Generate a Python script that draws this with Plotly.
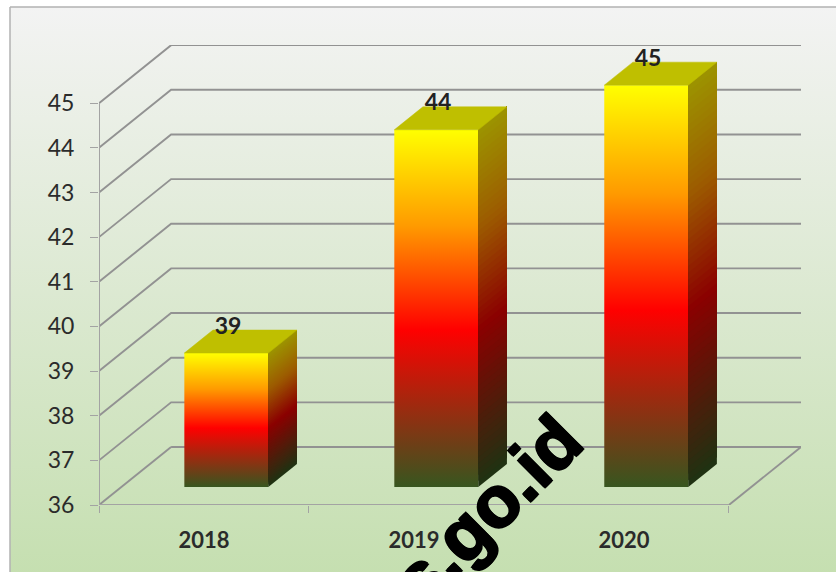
import plotly.graph_objects as go

# ---- data ----
years = ["2018", "2019", "2020"]
values = [39, 44, 45]
axis_ticks = [36, 37, 38, 39, 40, 41, 42, 43, 44, 45]

# ---- layout constants (pixels of the 836x572 picture) ----
W, H = 836, 572
LEFT, RIGHT, TOP, BOTTOM = 99, 801, 45, 505
UNIT_X, UNIT_Y = 209.67, 44.65
DEPTH_X = 72 / UNIT_X
DEPTH_Y = 58 / UNIT_Y
BAR_W = 0.4
D0, D1 = 0.31, 0.707
GRID = "#929292"
AX = "#a3a3a3"

FRONT_SCALE = [[0, "#37561f"], [0.44, "#ff0000"], [0.73, "#ff9a00"], [1, "#ffff00"]]
SIDE_STOPS = [(0, (0x1e, 0x33, 0x12)), (0.44, (0x8b, 0, 0)), (0.73, (0x9c, 0x5c, 0)), (1, (0x9c, 0x94, 0))]


def side_color(t):
    for (a, ca), (b, cb) in zip(SIDE_STOPS, SIDE_STOPS[1:]):
        if t <= b:
            f = (t - a) / (b - a)
            return "rgb(%d,%d,%d)" % tuple(round(p + (q - p) * f) for p, q in zip(ca, cb))
    return "rgb(156,148,0)"


fig = go.Figure()

# frame / background on a full-page helper axis pair
fig.add_trace(go.Scatter(
    x=[10, W + 5, W + 5, 10, 10], y=[7, 7, H + 5, H + 5, 7], mode="lines",
    fill="toself", line=dict(color="#b3b3b3", width=1.5),
    fillgradient=dict(type="vertical", colorscale=[[0, "#c5dfb0"], [1, "#f3f3f3"]]),
    xaxis="x", yaxis="y", hoverinfo="skip", showlegend=False,
))


def line(xs, ys, color=GRID, width=1.9):
    fig.add_trace(go.Scatter(x=xs, y=ys, mode="lines", line=dict(color=color, width=width),
                             xaxis="x2", yaxis="y2", hoverinfo="skip", showlegend=False,
                             cliponaxis=False))


xl, xr = -0.5, 2.5
base = axis_ticks[0]
# floor edges
line([xl, xl + DEPTH_X], [base, base + DEPTH_Y])
line([xl + DEPTH_X, xr + DEPTH_X], [base + DEPTH_Y, base + DEPTH_Y])
line([xr + DEPTH_X, xr], [base + DEPTH_Y, base])
# wall grid lines
for v in axis_ticks[1:]:
    line([xl, xl + DEPTH_X, xr + DEPTH_X], [v, v + DEPTH_Y, v + DEPTH_Y])
# axis lines
line([xl, xl], [axis_ticks[0], axis_ticks[-1]], AX, 2)
line([xl, xr], [base, base], AX, 2)

# 3-D columns
for i, v in enumerate(values):
    x0, x1 = i - BAR_W / 2, i + BAR_W / 2
    fx0, fb = x0 + D0 * DEPTH_X, base + D0 * DEPTH_Y
    fx1, ft = x1 + D0 * DEPTH_X, v + D0 * DEPTH_Y
    bx1 = x1 + D1 * DEPTH_X
    lift = (D1 - D0) * DEPTH_Y
    # front face
    fig.add_trace(go.Scatter(
        x=[fx0, fx1, fx1, fx0, fx0], y=[fb, fb, ft, ft, fb], mode="lines",
        line=dict(width=0), fill="toself",
        fillgradient=dict(type="vertical", colorscale=FRONT_SCALE),
        xaxis="x2", yaxis="y2", hoverinfo="skip", showlegend=False,
    ))
    # side face: slanted bands painted over one another, bottom to top
    n = 60
    for k in range(n):
        t0, t1 = k / n, (k + 1) / n
        y0 = fb + (ft - fb) * t0
        c = side_color((t0 + t1) / 2)
        fig.add_trace(go.Scatter(
            x=[fx1, bx1, bx1, fx1, fx1], y=[y0, y0 + lift, ft + lift, ft, y0],
            mode="lines", line=dict(width=0), fill="toself", fillcolor=c,
            xaxis="x2", yaxis="y2", hoverinfo="skip", showlegend=False,
        ))
    # top face
    bx0 = x0 + D1 * DEPTH_X
    fig.add_trace(go.Scatter(
        x=[fx0, fx1, bx1, bx0, fx0], y=[ft, ft, ft + lift, ft + lift, ft], mode="lines",
        line=dict(color="#bfbf00", width=0.5), fill="toself", fillcolor="#bfbf00",
        xaxis="x2", yaxis="y2", hoverinfo="skip", showlegend=False,
    ))

# value labels
fig.add_trace(go.Scatter(
    x=[i + 0.115 for i in range(3)],
    y=[v + D1 * DEPTH_Y + 0.05 for v in values],
    mode="text", text=[str(v) for v in values], textposition="middle center",
    textfont=dict(family="Lato", size=23, color="#222222", weight="bold"),
    xaxis="x2", yaxis="y2", hoverinfo="skip", showlegend=False, cliponaxis=False,
))

fig.update_layout(
    width=W, height=H, margin=dict(l=0, r=0, t=0, b=0, pad=0, autoexpand=False),
    paper_bgcolor="white", plot_bgcolor="rgba(0,0,0,0)", showlegend=False,
    xaxis=dict(domain=[0, 1], range=[0, W], visible=False, fixedrange=True),
    yaxis=dict(domain=[0, 1], range=[H, 0], visible=False, fixedrange=True),
    xaxis2=dict(
        domain=[LEFT / W, RIGHT / W], range=[-0.5, 2.5 + DEPTH_X], anchor="y2",
        tickmode="array", tickvals=[0, 1, 2], ticktext=["<b>%s</b>" % y for y in years],
        ticks="", showgrid=False, zeroline=False, showline=False,
        tickfont=dict(family="Lato", size=22, color="#2b2b2b"), ticklabelstandoff=20,
        minor=dict(tickmode="array", tickvals=[-0.5, 0.5, 1.5, 2.5], ticks="outside",
                   ticklen=7, tickwidth=1, tickcolor=AX, showgrid=False),
    ),
    yaxis2=dict(
        domain=[1 - BOTTOM / H, 1 - TOP / H], range=[36, 36 + (BOTTOM - TOP) / UNIT_Y], anchor="x2",
        tickmode="array", tickvals=axis_ticks, ticks="outside", ticklen=8, tickwidth=1.2,
        tickcolor=AX, showgrid=False, zeroline=False, showline=False,
        tickfont=dict(family="Lato", size=23, color="#2b2b2b"), ticklabelstandoff=11,
    ),
    annotations=[dict(
        text="<b>s.go.id</b>", xref="paper", yref="paper", x=487 / W, y=1 - 510 / H,
        showarrow=False, textangle=-45, xanchor="center", yanchor="middle",
        font=dict(family="Liberation Sans", size=72, color="black",
                  shadow="1px 1px 0 black, -1px -1px 0 black, 1px -1px 0 black, -1px 1px 0 black"),
    )],
)

fig.write_html("out.html", config={"displayModeBar": False},
               post_script="document.body.style.margin='0';document.documentElement.style.overflow='hidden';")
